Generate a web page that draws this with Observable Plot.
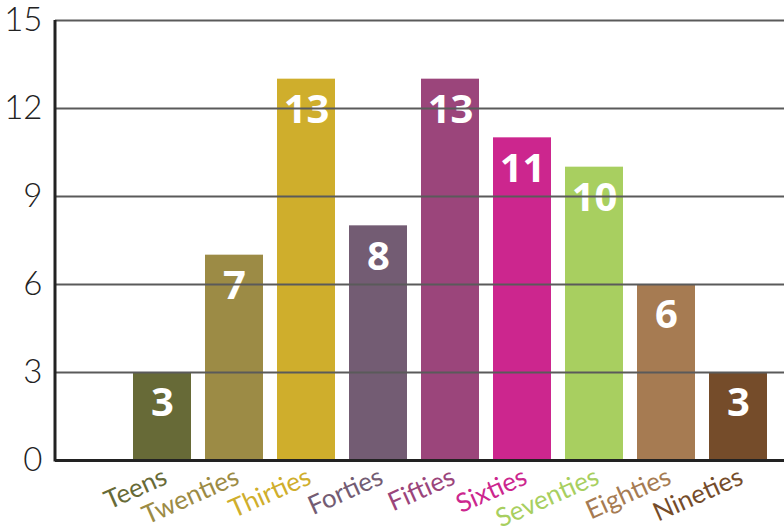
<!DOCTYPE html>
<html>
<head>
<meta charset="utf-8">
<script src="https://cdn.jsdelivr.net/npm/d3@7"></script>
<script src="https://cdn.jsdelivr.net/npm/@observablehq/plot@0.6"></script>
<style>
  html, body { margin: 0; padding: 0; background: #fff; }
</style>
</head>
<body>
<div id="chart"></div>
<script>
const categories = ["Teens", "Twenties", "Thirties", "Forties", "Fifties", "Sixties", "Seventies", "Eighties", "Nineties"];
const values = [3, 7, 13, 8, 13, 11, 10, 6, 3];
const colors = ["#676A37", "#9C8B45", "#CFAE2C", "#735C73", "#9B457B", "#CC268E", "#A8CF60", "#A67B52", "#754C2A"];
const yTicks = [0, 3, 6, 9, 12, 15];
const gridTicks = [3, 6, 9, 12, 15];

const data = categories.map((c, i) => ({cat: c, value: values[i], color: colors[i]}));

// vertical y-axis line at the left edge of the frame
function yAxisLine(index, scales, values, dimensions) {
  const line = d3.create("svg:line")
    .attr("x1", dimensions.marginLeft)
    .attr("x2", dimensions.marginLeft)
    .attr("y1", scales.y(0) + 1.5)
    .attr("y2", scales.y(15))
    .attr("stroke", "#222")
    .attr("stroke-width", 3);
  return line.node();
}

const chart = Plot.plot({
  width: 784,
  height: 529,
  marginLeft: 55,
  marginRight: 0,
  marginTop: 20,
  marginBottom: 69,
  style: {background: "#fff", overflow: "visible"},
  x: {domain: categories, range: [131, 770], paddingInner: 0.19, paddingOuter: 0, axis: null},
  y: {domain: [0, 15], axis: null},
  marks: [
    Plot.barY(data, {x: "cat", y: "value", fill: "color"}),
    Plot.text(data, {
      x: "cat", y: "value", text: d => String(d.value), dy: 31,
      fill: "#fff", fontSize: 40, fontWeight: "bold", fontFamily: "Open Sans"
    }),
    Plot.ruleY(gridTicks, {stroke: "#5a5a5a", strokeWidth: 2}),
    Plot.ruleY([0], {stroke: "#222", strokeWidth: 3}),
    yAxisLine,
    Plot.text(yTicks, {
      y: d => d, text: d => String(d), frameAnchor: "left", textAnchor: "end",
      dx: -13, fontSize: 33, fill: "#222", fontFamily: "Lato", fontWeight: 300
    }),
    Plot.text(data, {
      x: "cat", y: 0, text: "cat", fill: "color", rotate: -24,
      textAnchor: "end", lineAnchor: "middle", dx: 3, dy: 15,
      fontSize: 26, fontFamily: "Lato"
    })
  ]
});
document.getElementById("chart").appendChild(chart);
</script>
</body>
</html>
